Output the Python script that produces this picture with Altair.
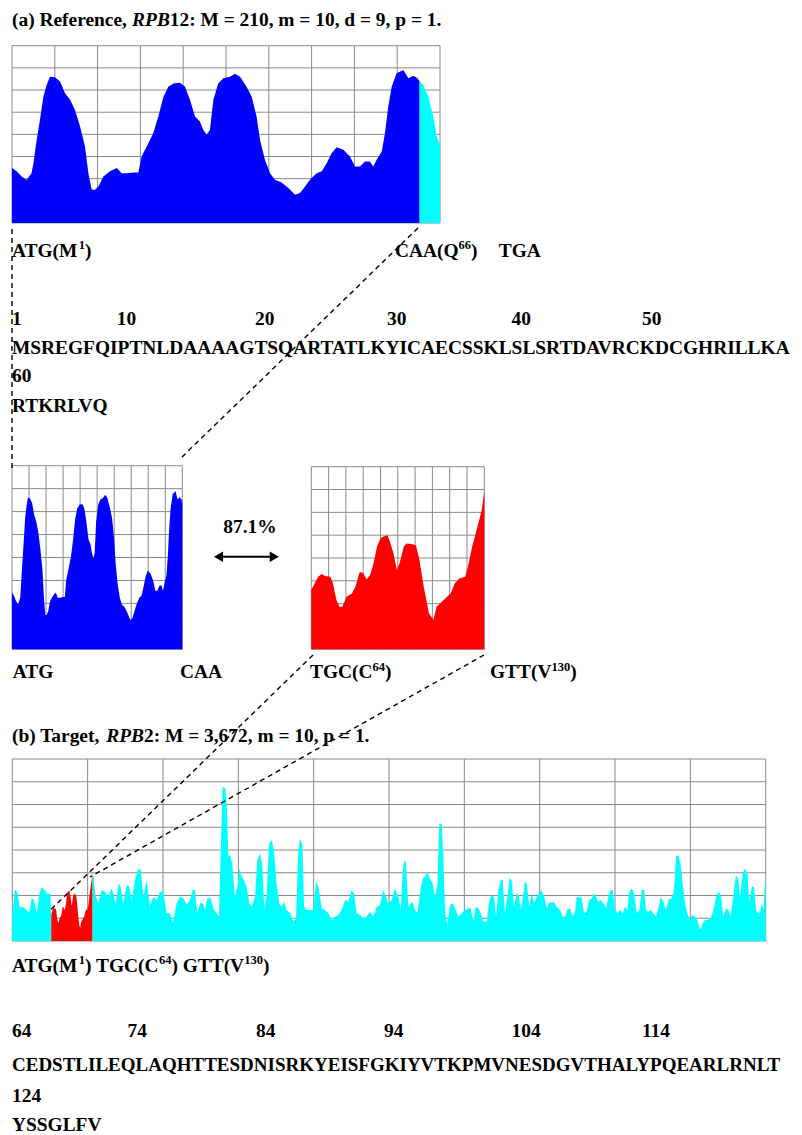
import altair as alt
import pandas as pd

# ---------------- data ----------------
# (a) reference RPB12 profile: (nucleotide position, height in grid rows)
REF_PROFILE = [
    (0, 2.48), (2.3, 2.33), (4.7, 2.10), (7.2, 1.95), (9.6, 2.25), (10.5, 2.70), (12.1, 3.75),
    (13.7, 4.65), (15.4, 5.70), (17.0, 6.23), (18.6, 6.60), (21.1, 6.58), (23.6, 6.38), (26.0, 5.86),
    (28.5, 5.56), (30.9, 5.10), (33.4, 4.35), (35.8, 3.45), (37.5, 2.25), (39.1, 1.50), (40.7, 1.50),
    (42.4, 1.65), (44.8, 2.10), (48.1, 2.33), (51.4, 2.48), (53.8, 2.25), (56.3, 2.25), (59.5, 2.28),
    (62.0, 2.28), (63.6, 3.00), (66.1, 3.45), (69.3, 4.05), (71.8, 4.80), (74.3, 5.70), (76.7, 6.15),
    (79.2, 6.30), (82.4, 6.33), (84.9, 6.15), (87.3, 5.56), (89.8, 4.80), (92.2, 4.58), (93.9, 4.20),
    (95.5, 3.98), (97.1, 4.20), (98.8, 5.56), (101.2, 6.30), (103.7, 6.53), (107.0, 6.60), (109.4, 6.73),
    (111.9, 6.60), (115.1, 6.15), (117.6, 5.70), (120.0, 4.80), (121.7, 3.75), (124.1, 2.85), (126.6, 2.25),
    (129.0, 1.95), (132.3, 1.83), (135.6, 1.58), (138.9, 1.28), (141.3, 1.35), (143.8, 1.65), (146.2, 1.95),
    (149.5, 2.25), (152.0, 2.33), (154.4, 2.70), (156.8, 3.15), (159.3, 3.42), (162.6, 3.30), (165.8, 3.00),
    (168.3, 2.55), (170.7, 2.55), (173.2, 2.78), (175.6, 2.78), (177.3, 2.55), (178.9, 2.85), (181.4, 3.23),
    (183.0, 4.05), (184.6, 5.25), (186.3, 6.15), (188.7, 6.76), (192.0, 6.90), (194.5, 6.53), (196.9, 6.64),
    (199.0, 6.53), (200.0, 6.38), (201.8, 6.23), (204.3, 5.70), (206.7, 4.80), (208.4, 3.90), (210.0, 3.53),
]
REF_LEN = 210
CODING_END = 200          # end of the blue (coding) part of the reference

# (b) target RPB2 profile: (nucleotide position, height in grid rows)
TARGET_PROFILE = [
    (0, 1.22), (13, 2.24), (24, 2.17), (37, 1.44), (50, 1.51), (70, 1.36), (83, 1.22), (94, 1.88),
    (106, 1.80), (119, 1.22), (132, 2.10), (143, 2.36), (159, 2.24), (167, 2.10), (186, 2.05), (190, 1.20),
    (390, 2.90), (397, 2.83), (403, 2.10), (419, 1.66), (436, 2.24), (452, 2.17), (468, 1.95), (484, 2.32),
    (496, 1.95), (505, 1.66), (517, 2.53), (528, 2.39), (541, 1.66), (557, 2.46), (570, 2.39), (582, 1.80),
    (598, 2.68), (614, 3.19), (626, 3.12), (639, 1.95), (655, 2.68), (671, 1.51), (687, 1.95), (704, 1.80),
    (720, 2.17), (736, 2.17), (752, 1.22), (769, 1.22), (782, 0.78), (801, 1.66), (817, 1.95), (834, 1.88),
    (850, 1.58), (866, 1.80), (879, 2.24), (890, 2.24), (902, 1.22), (915, 1.66), (928, 1.66), (939, 1.36),
    (951, 1.88), (967, 1.88), (980, 1.44), (996, 1.22), (1007, 1.07), (1016, 4.00), (1025, 6.78), (1037, 6.71),
    (1045, 6.05), (1053, 3.71), (1061, 3.78), (1072, 3.41), (1085, 1.95), (1097, 2.39), (1107, 3.19), (1118, 2.83),
    (1129, 2.68), (1142, 2.39), (1155, 1.66), (1167, 1.51), (1183, 1.95), (1194, 3.56), (1207, 3.85), (1219, 3.27),
    (1228, 1.36), (1240, 2.10), (1251, 4.29), (1264, 4.44), (1275, 4.00), (1288, 2.53), (1301, 1.66), (1313, 1.51),
    (1324, 1.73), (1337, 1.36), (1354, 1.22), (1370, 0.85), (1383, 1.00), (1394, 4.00), (1402, 4.51), (1414, 4.22),
    (1422, 1.51), (1435, 1.36), (1451, 1.36), (1467, 1.36), (1480, 2.61), (1492, 2.39), (1508, 1.44), (1524, 1.36),
    (1540, 1.22), (1557, 0.92), (1573, 1.07), (1589, 1.14), (1605, 1.36), (1622, 1.80), (1638, 1.73), (1654, 2.24),
    (1665, 2.10), (1678, 1.22), (1695, 1.14), (1711, 1.00), (1727, 1.07), (1743, 1.29), (1760, 1.07), (1776, 1.51),
    (1792, 1.58), (1808, 2.24), (1821, 1.95), (1833, 1.66), (1849, 1.80), (1865, 2.32), (1882, 1.95), (1893, 1.36),
    (1903, 3.12), (1911, 3.56), (1919, 3.34), (1930, 1.51), (1942, 1.66), (1951, 1.73), (1963, 1.36), (1974, 1.22),
    (1987, 2.10), (2000, 2.75), (2012, 2.83), (2023, 3.05), (2036, 2.75), (2049, 2.53), (2060, 1.95), (2072, 2.53),
    (2081, 5.17), (2093, 5.14), (2101, 3.56), (2109, 1.36), (2120, 0.70), (2133, 1.58), (2146, 1.66), (2158, 1.44),
    (2174, 1.07), (2190, 1.22), (2206, 1.36), (2223, 1.44), (2234, 1.44), (2247, 0.85), (2258, 1.51), (2271, 1.44),
    (2283, 1.22), (2296, 0.85), (2312, 0.85), (2325, 1.80), (2336, 2.02), (2348, 1.95), (2358, 1.07), (2369, 2.24),
    (2380, 2.68), (2390, 2.68), (2401, 1.22), (2413, 1.95), (2423, 2.75), (2434, 2.68), (2445, 1.51), (2458, 2.10),
    (2468, 2.02), (2479, 1.36), (2491, 2.10), (2499, 2.61), (2507, 2.53), (2520, 1.51), (2531, 2.10), (2543, 1.66),
    (2556, 1.95), (2567, 2.10), (2580, 2.24), (2592, 1.95), (2605, 1.44), (2618, 1.73), (2629, 1.66), (2640, 1.73),
    (2653, 1.51), (2670, 1.36), (2683, 1.07), (2694, 1.07), (2705, 1.36), (2718, 1.44), (2731, 1.07), (2743, 1.29),
    (2751, 1.95), (2764, 1.95), (2775, 1.88), (2787, 1.22), (2799, 1.29), (2812, 1.80), (2824, 1.88), (2835, 2.10),
    (2845, 1.95), (2856, 1.73), (2868, 1.80), (2881, 1.66), (2894, 1.44), (2905, 1.95), (2916, 2.24), (2926, 2.24),
    (2938, 1.36), (2949, 1.22), (2962, 1.36), (2975, 1.22), (2986, 1.51), (2998, 1.36), (3007, 2.17), (3019, 2.32),
    (3030, 2.10), (3043, 1.22), (3056, 1.36), (3068, 2.24), (3079, 2.24), (3089, 1.36), (3100, 1.29), (3111, 1.36),
    (3124, 1.22), (3137, 1.07), (3149, 1.44), (3160, 1.95), (3173, 1.73), (3186, 1.36), (3198, 1.80), (3214, 1.88),
    (3225, 2.24), (3235, 3.71), (3246, 3.78), (3258, 3.34), (3267, 2.53), (3279, 1.66), (3290, 1.22), (3303, 0.92),
    (3315, 1.14), (3328, 1.07), (3339, 0.92), (3352, 0.48), (3365, 0.78), (3376, 0.92), (3388, 0.92), (3404, 1.00),
    (3417, 1.36), (3430, 1.95), (3441, 2.17), (3453, 2.02), (3466, 1.07), (3479, 1.44), (3490, 1.36), (3501, 1.07),
    (3514, 1.95), (3527, 2.90), (3539, 2.68), (3547, 1.95), (3560, 2.97), (3571, 3.19), (3583, 2.97), (3592, 1.66),
    (3604, 2.39), (3615, 2.39), (3625, 1.36), (3636, 1.22), (3644, 1.22), (3653, 1.66), (3661, 1.36), (3672, 3.12),
]
TARGET_LEN = 3672

# matched target window C64..V130 (red), heights in rows of its own small panel
TARGET_WINDOW = [
    (190, 2.60), (194, 2.89), (198, 3.18), (202, 3.30), (206, 3.21), (212, 3.18), (215, 2.89), (219, 2.16),
    (223, 1.84), (226, 1.87), (231, 2.31), (237, 2.45), (241, 2.74), (246, 3.40), (250, 3.33), (254, 3.07),
    (258, 3.26), (262, 3.77), (266, 4.50), (270, 4.86), (273, 4.93), (278, 5.00), (281, 4.71), (285, 4.20),
    (289, 3.47), (292, 3.77), (297, 4.50), (300, 4.64), (306, 4.61), (311, 4.56), (315, 3.91), (320, 2.74),
    (326, 1.58), (331, 1.29), (335, 1.87), (343, 2.16), (351, 2.45), (356, 2.89), (361, 3.10), (368, 3.18),
    (372, 3.77), (376, 4.50), (382, 5.36), (387, 6.09), (390, 6.93),
]
WIN_START, WIN_END = 190, 390
WINDOW_ROWS_IN_TARGET = 18.0   # small-panel rows spanned by the full target panel height
GRID_COLS, GRID_ROWS = 10, 8

# ---------------- text content ----------------
TITLE_A = [("(a) Reference, ", "n"), ("RPB", "i"), ("12: M = 210, m = 10, d = 9, p = 1.", "n")]
TITLE_B = [("(b) Target, ", "n"), ("RPB", "i"), ("2: M = 3,672, m = 10, p = 1.", "n")]
LBL_ATG_M1 = [("ATG(M", "n"), ("1", "s"), (")", "n")]
LBL_CAA_Q66 = [("CAA(Q", "n"), ("66", "s"), (")", "n")]
LBL_TGA = [("TGA", "n")]
LBL_TGC_C64 = [("TGC(C", "n"), ("64", "s"), (")", "n")]
LBL_GTT_V130 = [("GTT(V", "n"), ("130", "s"), (")", "n")]
LBL_TARGET_CODONS = [("ATG(M", "n"), ("1", "s"), (") TGC(C", "n"), ("64", "s"), (") GTT(V", "n"), ("130", "s"), (")", "n")]
REF_NUMBERS = ["1", "10", "20", "30", "40", "50"]
REF_SEQ = ["MSREGFQIPTNLDAAAAGTSQARTATLKYICAECSSKLSLSRTDAVRCKDCGHRILLKA", "RTKRLVQ"]
REF_NUM2 = "60"
TGT_NUMBERS = ["64", "74", "84", "94", "104", "114"]
TGT_SEQ = ["CEDSTLILEQLAQHTTESDNISRKYEISFGKIYVTKPMVNESDGVTHALYPQEARLRNLT", "YSSGLFV"]
TGT_NUM2 = "124"
SIMILARITY = "87.1%"

# ---------------- styling / layout ----------------
W, H = 786, 1127
OX, OY = 8, 8
FONT = "Liberation Serif"
FS, SUP_FS, SUP_RISE = 19.4, 12.5, 7.5
FS_LONG = 19.0
GRID_COLOR = "#8a8a8a"
BLUE, CYAN, RED = "#0000ff", "#00ffff", "#ff0000"

BOLD_W = {" ": 250, "(": 333, ")": 333, ",": 250, ".": 250, ":": 333, "=": 570, "%": 1000,
          "a": 500, "b": 556, "c": 444, "d": 556, "e": 444, "f": 333, "g": 500, "m": 833, "n": 556,
          "p": 556, "r": 444, "t": 333,
          "A": 722, "B": 667, "C": 722, "D": 722, "E": 667, "F": 611, "G": 778, "H": 778, "I": 389,
          "K": 778, "L": 667, "M": 944, "N": 722, "P": 611, "Q": 778, "R": 722, "S": 556, "T": 667,
          "V": 722, "Y": 722}
for d in "0123456789":
    BOLD_W[d] = 500
BOLDITAL_W = {"R": 667, "P": 611, "B": 667}


def sx(v):
    return v - OX


def sy(v):
    return v - OY


def lin(domain, rng):
    return alt.Scale(domain=domain, range=rng, nice=False, zero=False)


def runs(x0, y0, parts):
    rows, x = [], x0
    for txt, kind in parts:
        if kind == "s":
            fs, y, tab = SUP_FS, y0 - SUP_RISE, BOLD_W
        elif kind == "i":
            fs, y, tab = FS, y0, BOLDITAL_W
        else:
            fs, y, tab = FS, y0, BOLD_W
        rows.append({"x": x, "y": y, "text": txt, "size": fs,
                     "style": "italic" if kind == "i" else "normal"})
        x += sum(tab.get(c, 600) for c in txt) * fs / 1000.0
    return rows


def plain(x, y, txt, size=FS):
    return {"x": x, "y": y, "text": txt, "size": size, "style": "normal"}


def grid(xdom, ydom, xs, ys):
    rows = []
    for i in range(GRID_COLS + 1):
        xv = xdom[0] + (xdom[1] - xdom[0]) * i / GRID_COLS
        rows.append({"x": xv, "x2": xv, "y": ydom[0], "y2": ydom[1]})
    for j in range(GRID_ROWS + 1):
        yv = ydom[0] + (ydom[1] - ydom[0]) * j / GRID_ROWS
        rows.append({"x": xdom[0], "x2": xdom[1], "y": yv, "y2": yv})
    return alt.Chart(pd.DataFrame(rows)).mark_rule(color=GRID_COLOR, strokeWidth=1).encode(
        x=alt.X("x:Q", scale=xs, axis=None), x2="x2:Q",
        y=alt.Y("y:Q", scale=ys, axis=None), y2="y2:Q")


def area(df, xs, ys, color, filt=None):
    c = alt.Chart(df)
    if filt is not None:
        c = c.transform_filter(filt)
    return c.mark_area(color=color, interpolate="linear", opacity=1, strokeWidth=0).encode(
        x=alt.X("pos:Q", scale=xs, axis=None),
        y=alt.Y("val:Q", scale=ys, axis=None),
        y2=alt.datum(0))


ref_df = pd.DataFrame(REF_PROFILE, columns=["pos", "val"])
tgt_df = pd.DataFrame(TARGET_PROFILE, columns=["pos", "val"])
win_df = pd.DataFrame(TARGET_WINDOW, columns=["pos", "val"])
ROWS = [0, GRID_ROWS]

# (a) reference panel
xs_a = lin([0, REF_LEN], [sx(12), sx(440)])
ys_a = lin(ROWS, [sy(223), sy(45.7)])
panel_a = alt.layer(
    grid([0, REF_LEN], ROWS, xs_a, ys_a),
    area(ref_df, xs_a, ys_a, BLUE, alt.datum.pos <= CODING_END),
    area(ref_df, xs_a, ys_a, CYAN, alt.datum.pos >= CODING_END),
)

# small reference (coding part)
xs_sb = lin([0, CODING_END], [sx(12), sx(182.3)])
ys_sb = lin(ROWS, [sy(649.3), sy(465.7)])
panel_sb = alt.layer(
    grid([0, CODING_END], ROWS, xs_sb, ys_sb),
    area(ref_df, xs_sb, ys_sb, BLUE, alt.datum.pos <= CODING_END),
)

# small target window
xs_sr = lin([WIN_START, WIN_END], [sx(311.3), sx(484.3)])
ys_sr = lin(ROWS, [sy(649.3), sy(466.7)])
panel_sr = alt.layer(
    grid([WIN_START, WIN_END], ROWS, xs_sr, ys_sr),
    area(win_df, xs_sr, ys_sr, RED),
)

# (b) target panel
xs_b = lin([0, TARGET_LEN], [sx(12.3), sx(765.7)])
ys_b = lin(ROWS, [sy(941), sy(759)])
panel_b = alt.layer(
    grid([0, TARGET_LEN], ROWS, xs_b, ys_b),
    area(tgt_df, xs_b, ys_b, CYAN, alt.datum.pos <= WIN_START),
    area(tgt_df, xs_b, ys_b, CYAN, alt.datum.pos >= WIN_END),
)
xs_b2 = lin([0, TARGET_LEN], [sx(12.3), sx(765.7)])
ys_b2 = lin([0, WINDOW_ROWS_IN_TARGET], [sy(941), sy(759)])
panel_b_red = area(win_df, xs_b2, ys_b2, RED)

# ---------------- annotations in page coordinates ----------------
PX = lin([OX, OX + W], [0, W])
PY = lin([OY, OY + H], [0, H])

conn_df = pd.DataFrame([
    {"x": 12, "y": 229, "x2": 12, "y2": 472},
    {"x": 418, "y": 228, "x2": 182, "y2": 457},
    {"x": 313, "y": 655, "x2": 48.5, "y2": 912},
    {"x": 484, "y": 655, "x2": 90, "y2": 877},
])
connectors = alt.Chart(conn_df).mark_rule(color="black", strokeWidth=1.4, strokeDash=[5, 4]).encode(
    x=alt.X("x:Q", scale=PX, axis=None), x2="x2:Q",
    y=alt.Y("y:Q", scale=PY, axis=None), y2="y2:Q")

arrow_line = alt.Chart(pd.DataFrame([{"x": 220, "x2": 273, "y": 556.7}])).mark_rule(
    color="black", strokeWidth=2).encode(
    x=alt.X("x:Q", scale=PX, axis=None), x2="x2:Q", y=alt.Y("y:Q", scale=PY, axis=None))
arrow_heads = alt.Chart(pd.DataFrame([
    {"x": 218.5, "y": 556.7, "shape": "triangle-left"},
    {"x": 274.3, "y": 556.7, "shape": "triangle-right"},
])).mark_point(filled=True, color="black", opacity=1, size=110).encode(
    x=alt.X("x:Q", scale=PX, axis=None), y=alt.Y("y:Q", scale=PY, axis=None),
    shape=alt.Shape("shape:N", scale=None, legend=None))

texts = []
texts += runs(12, 26, TITLE_A)
texts += runs(12, 256.7, LBL_ATG_M1)
texts += runs(395, 256.7, LBL_CAA_Q66)
texts += runs(498.7, 256.7, LBL_TGA)
for num, xp in zip(REF_NUMBERS, [12, 116.7, 255, 387, 511.5, 642]):
    texts.append(plain(xp, 325, num))
texts.append(plain(12, 354, REF_SEQ[0]))
texts.append(plain(12, 381.7, REF_NUM2))
texts.append(plain(12, 411.7, REF_SEQ[1]))
texts.append(plain(223.3, 533.3, SIMILARITY))
texts.append(plain(12.7, 678.3, "ATG"))
texts.append(plain(180, 678.3, "CAA"))
texts += runs(310, 678.3, LBL_TGC_C64)
texts += runs(490, 678.3, LBL_GTT_V130)
texts += runs(12, 741.7, TITLE_B)
texts += runs(12, 971.7, LBL_TARGET_CODONS)
for num, xp in zip(TGT_NUMBERS, [12, 127.5, 256, 384, 511.5, 642]):
    texts.append(plain(xp, 1036.7, num))
texts.append(plain(12, 1070.5, TGT_SEQ[0], FS_LONG))
texts.append(plain(12, 1101.7, TGT_NUM2))
texts.append(plain(12, 1131, TGT_SEQ[1]))
txt_df = pd.DataFrame(texts)


def text_layer(style):
    return alt.Chart(txt_df).transform_filter(alt.datum.style == style).mark_text(
        align="left", baseline="alphabetic", font=FONT, fontWeight="bold",
        fontStyle=style, color="black").encode(
        x=alt.X("x:Q", scale=PX, axis=None), y=alt.Y("y:Q", scale=PY, axis=None),
        text="text:N", size=alt.Size("size:Q", scale=None, legend=None))


annot = alt.layer(connectors, arrow_line, arrow_heads, text_layer("normal"), text_layer("italic"))

chart = alt.layer(panel_a, panel_sb, panel_sr, panel_b, panel_b_red, annot).resolve_scale(
    x="independent", y="independent"
).properties(
    width=W, height=H, padding=0, autosize=alt.AutoSizeParams(type="none"), background="white"
).configure_view(strokeWidth=0)

chart.save("out.html", embed_options={"renderer": "svg", "actions": False})
